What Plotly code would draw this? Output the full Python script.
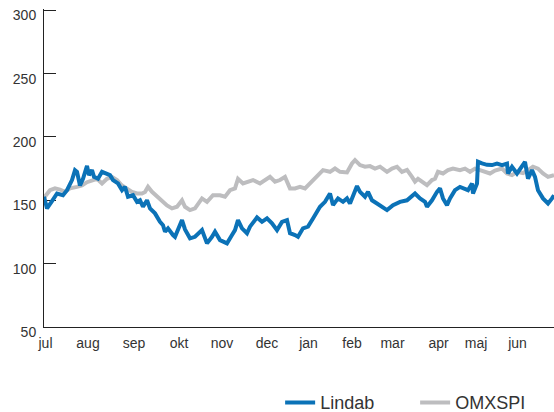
import plotly.graph_objects as go

# x positions: trading-day index (0 = start of July), y: index values
lindab_x = [0, 1.5, 4, 6.5, 9.5, 11.5, 14, 15.5, 16.5, 18, 19.5, 21.5,
            22.5, 24, 25, 27, 29, 30.5, 33, 34.5, 37, 39, 40.5, 42,
            44.5, 46.5, 48, 49.5, 51.5, 53, 55.5, 58, 59.5, 60.5, 62, 64.5,
            65.5, 69, 70.5, 73, 75.5, 79, 81.5, 84, 85.5, 88, 91.5, 94,
            95.5, 97, 99, 101.5, 103, 106.5, 109, 111.5, 114, 116.5, 119, 121.5,
            123, 125.5, 127, 129.5, 132, 134.5, 138, 140.5, 143, 144.5, 147,
            149.5, 151.5, 153, 156.5, 158, 160.5, 162, 164, 166.5, 169, 171.5,
            174.5, 178, 181.5, 184, 185.5, 188, 190.5, 191.5, 194, 196.5, 198, 199.5,
            201.5, 203, 205.5, 208, 210.5, 212, 214, 214.5, 216.5, 217, 219, 221.5,
            224, 226.5, 229, 231.5, 232, 234, 236.5, 239, 240.5, 242, 244, 245.5,
            247, 249.5, 252, 254, 255]
lindab_y = [152.8, 143.6, 149.4, 155.4, 154, 158, 166, 173.8, 172.5, 161.7, 167, 177.2,
            169.9, 173.8, 168.5, 167, 172.5, 171.2, 169.9, 166, 163.3, 158, 160.6, 152.8,
            154, 148.8, 150, 144.9, 150, 143.6, 139.7, 133, 130.4, 125.2, 127.9, 122.6,
            121.2, 134.4, 127, 120, 121.2, 126.5, 116, 121.2, 125.2, 118.6, 116, 122.6,
            126.5, 134.4, 127.9, 124, 129.2, 136.5, 133, 135.7, 131.8, 126.5, 133, 134.4,
            124, 122.6, 121.2, 127.9, 129.2, 135.7, 144.9, 148.8, 155.4, 146.2, 151.5,
            148.8, 151.5, 147.5, 161.2, 156.7, 152.8, 156.7, 150, 147.5, 144.9, 142.3,
            146.2, 148.8, 150, 152.8, 155.4, 151.5, 148.8, 144.9, 150, 156.7, 159.4, 151.5,
            146.2, 151.5, 158, 160.6, 159.4, 158, 163.3, 155.4, 163.3, 180.4, 179.1, 178,
            177.8, 179, 177.8, 179, 171.2, 176.5, 171.2, 176.5, 180.4, 167, 173.8, 168.5,
            158, 151.5, 147.5, 151.5, 154]

omx_x = [0, 3, 5.5, 8, 10.5, 13, 16.5, 19, 21.5, 24, 26.5, 29, 31.5, 34, 36.5, 39, 41.5,
         44, 46.5, 49, 50.5, 52, 54, 56.5, 59, 61.5, 64, 66.5, 69, 70.5, 73, 75.5, 79,
         81.5, 84.5, 88, 90.5, 93, 95.5, 97, 99.5, 102, 104.5, 108, 110.5, 113, 115.5,
         118, 120.5, 122, 123, 125.5, 128, 130.5, 133, 136.5, 139.5, 143, 145.5, 148,
         151.5, 154, 155.5, 158, 160.5, 163, 165.5, 168, 171.5, 174, 176.5, 179, 181.5,
         184, 185.5, 187, 189.5, 191.5, 194, 195.5, 197, 199.5, 202, 204.5, 208, 210.5,
         213, 215.5, 218, 220.5, 223, 225.5, 229, 231.5, 234, 236.5, 239.5, 242, 244.5,
         247, 249.5, 252, 255]
omx_y = [152, 158, 159.4, 158.5, 156.7, 159.4, 160.6, 161.7, 164.3, 166, 167, 163.3, 167,
         168.5, 166, 161.7, 159.4, 156.7, 155.4, 155.4, 156.5, 160.6, 156.7, 152.8, 150,
         146, 143.6, 144.9, 150, 144.9, 142.3, 143.6, 151.5, 148.8, 154, 154, 152.8, 158,
         159.4, 167, 163.3, 164.7, 166, 163.3, 166, 168.5, 164.7, 166, 168.5, 162, 159.4,
         159.4, 160.6, 159.4, 163.3, 168.5, 173.8, 172.5, 175.1, 172.5, 172, 179.1, 181.7,
         177.8, 176.5, 177, 175.1, 176.5, 172.5, 175.1, 176.5, 172.5, 174, 168.5, 164.7,
         167, 164.7, 162, 166, 167, 172.5, 171.2, 173.8, 175.1, 173.8, 175, 172.5, 175,
         173.8, 172.5, 171.2, 173.5, 175.1, 171.2, 169.9, 172.5, 171.5, 173.8, 176.5,
         175, 171.2, 168.5, 169.9]

month_labels = ["jul", "aug", "sep", "okt", "nov", "dec", "jan", "feb", "mar", "apr", "maj", "jun"]
month_pos = [0.75, 22, 45, 67.5, 89, 111.5, 132.25, 154, 174.25, 197.25, 216, 236.75]
y_ticks = [50, 100, 150, 200, 250, 300]

BLUE = "#0b72b7"
GRAY = "#bdbdbf"
TXT = "#333333"
FONT = "Liberation Sans, Arial, Helvetica, sans-serif"

fig = go.Figure()
fig.add_trace(go.Scatter(x=omx_x, y=omx_y, mode="lines", name="OMXSPI",
                         line=dict(color=GRAY, width=4)))
fig.add_trace(go.Scatter(x=lindab_x, y=lindab_y, mode="lines", name="Lindab",
                         line=dict(color=BLUE, width=4)))

# y range runs 1 unit past 300 so the top tick mark is kept
fig.update_layout(
    template="none",
    width=554, height=412,
    margin=dict(l=44, r=0, t=8.732, b=85, autoexpand=False),
    paper_bgcolor="white", plot_bgcolor="white",
    font=dict(family=FONT, color=TXT, size=14),
    showlegend=True,
    legend=dict(orientation="h", traceorder="reversed",
                x=0.463, xanchor="left", y=-0.238, yanchor="middle",
                entrywidth=90, entrywidthmode="pixels",
                font=dict(size=18, color=TXT, family=FONT),
                bgcolor="rgba(0,0,0,0)", borderwidth=0),
    xaxis=dict(range=[0, 255], tickmode="array", tickvals=month_pos, ticktext=month_labels,
               showgrid=False, zeroline=False, showline=True, linecolor="#222222",
               linewidth=1, ticks="", automargin=False, ticklabelstandoff=3,
               tickfont=dict(size=14, color=TXT)),
    yaxis=dict(range=[50, 301], tickmode="array", tickvals=y_ticks,
               showgrid=False, zeroline=False, showline=True, linecolor="#222222",
               linewidth=1, ticks="inside", ticklen=12, tickcolor="#222222",
               layer="below traces", ticklabelshift=5, ticklabelstandoff=4,
               ticklabeloverflow="allow",
               automargin=False, tickfont=dict(size=14, color=TXT)),
)

fig.write_html("out.html",
               config={"displayModeBar": False},
               post_script="document.body.style.margin='0';"
                           "document.body.style.overflow='hidden';")
